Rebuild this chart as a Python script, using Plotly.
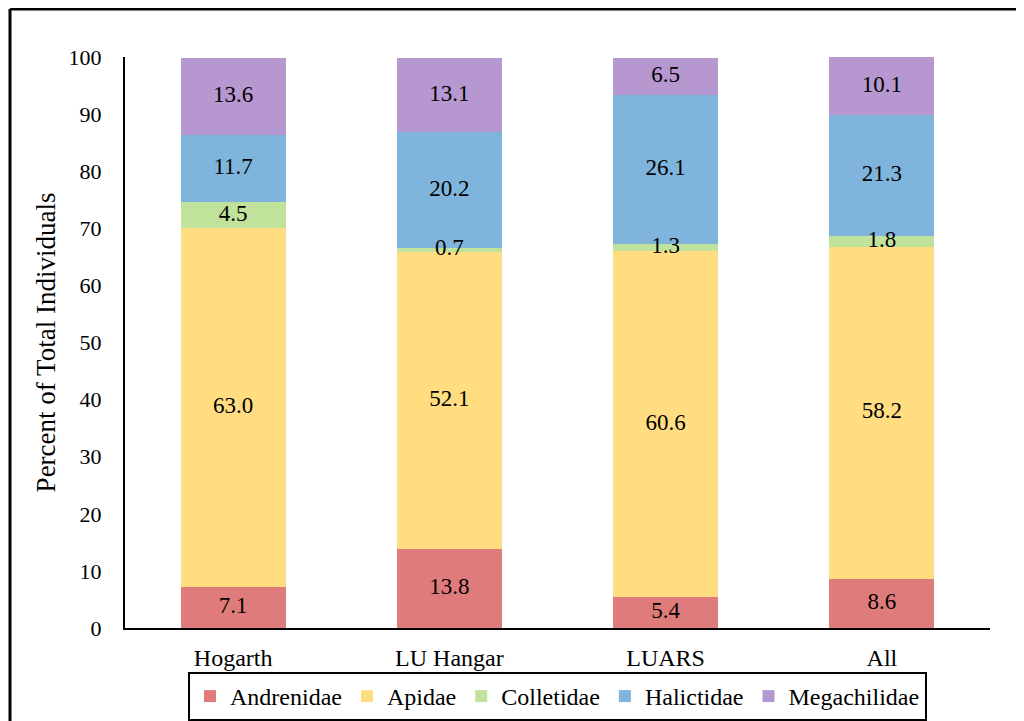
import plotly.graph_objects as go

sites = ["Hogarth", "LU Hangar", "LUARS", "All"]
families = ["Andrenidae", "Apidae", "Colletidae", "Halictidae", "Megachilidae"]
andrenidae = [7.1, 13.8, 5.4, 8.6]
apidae = [63.0, 52.1, 60.6, 58.2]
colletidae = [4.5, 0.7, 1.3, 1.8]
halictidae = [11.7, 20.2, 26.1, 21.3]
megachilidae = [13.6, 13.1, 6.5, 10.1]
colors = ["#E07B7B", "#FFDD80", "#C0E29A", "#7FB5DD", "#B797CF"]
yticks = [0, 10, 20, 30, 40, 50, 60, 70, 80, 90, 100]

series = [andrenidae, apidae, colletidae, halictidae, megachilidae]
FONT = "Liberation Serif"

fig = go.Figure()
for name, vals, col in zip(families, series, colors):
    fig.add_trace(go.Bar(
        x=sites, y=vals, name=name, marker=dict(color=col, line=dict(width=0)),
        hoverinfo="skip",
    ))

# value labels drawn above all bars, centred in each stacked segment
base = [0.0] * len(sites)
for vals in series:
    mids = [b + v / 2 for b, v in zip(base, vals)]
    fig.add_trace(go.Scatter(
        x=sites, y=mids, mode="text", text=[f"{v:.1f}" for v in vals],
        textposition="middle center", showlegend=False, hoverinfo="skip",
        textfont=dict(family=FONT, size=23, color="black"),
    ))
    base = [b + v for b, v in zip(base, vals)]

# page has an 8px body margin, so figure coords = screenshot coords - 8
OFF = 8
W, H = 1024, 721
L, R, T, B = 125 - OFF, 1024 - (990 - OFF), 57 - OFF, 721 - (628 - OFF)
pw, ph = W - L - R, H - T - B

def px(x):
    return (x - OFF - L) / pw

def py(y):
    return (H - B - (y - OFF)) / ph

fig.update_layout(
    barmode="stack", bargap=0.515,
    width=W, height=H,
    margin=dict(l=L, r=R, t=T, b=B, autoexpand=False),
    paper_bgcolor="white", plot_bgcolor="white",
    font=dict(family=FONT, size=22, color="black"),
    showlegend=True,
    legend=dict(orientation="h", x=0.5, xanchor="center", y=py(672), yanchor="top",
                bordercolor="black", borderwidth=2, font=dict(family=FONT, size=24, color="black"),
                traceorder="normal", itemwidth=30),
    xaxis=dict(showline=True, linecolor="black", linewidth=2, ticks="", showgrid=False,
               ticklabelstandoff=7,
               tickfont=dict(family=FONT, size=24, color="black")),
    yaxis=dict(range=[0, 100], tickvals=yticks, showline=True, linecolor="black", linewidth=2,
               ticks="", showgrid=False, zeroline=False, ticklabelstandoff=17,
               tickfont=dict(family=FONT, size=22, color="black"),
               title=dict(text="Percent of Total Individuals", standoff=5,
                          font=dict(family=FONT, size=27, color="black"))),
    shapes=[
        dict(type="line", xref="paper", yref="paper", x0=px(10), x1=px(1040), y0=py(9), y1=py(9),
             line=dict(color="black", width=3)),
        dict(type="line", xref="paper", yref="paper", x0=px(10), x1=px(10), y0=py(9), y1=py(740),
             line=dict(color="black", width=3)),
    ],
)

fig.write_html("out.html")
